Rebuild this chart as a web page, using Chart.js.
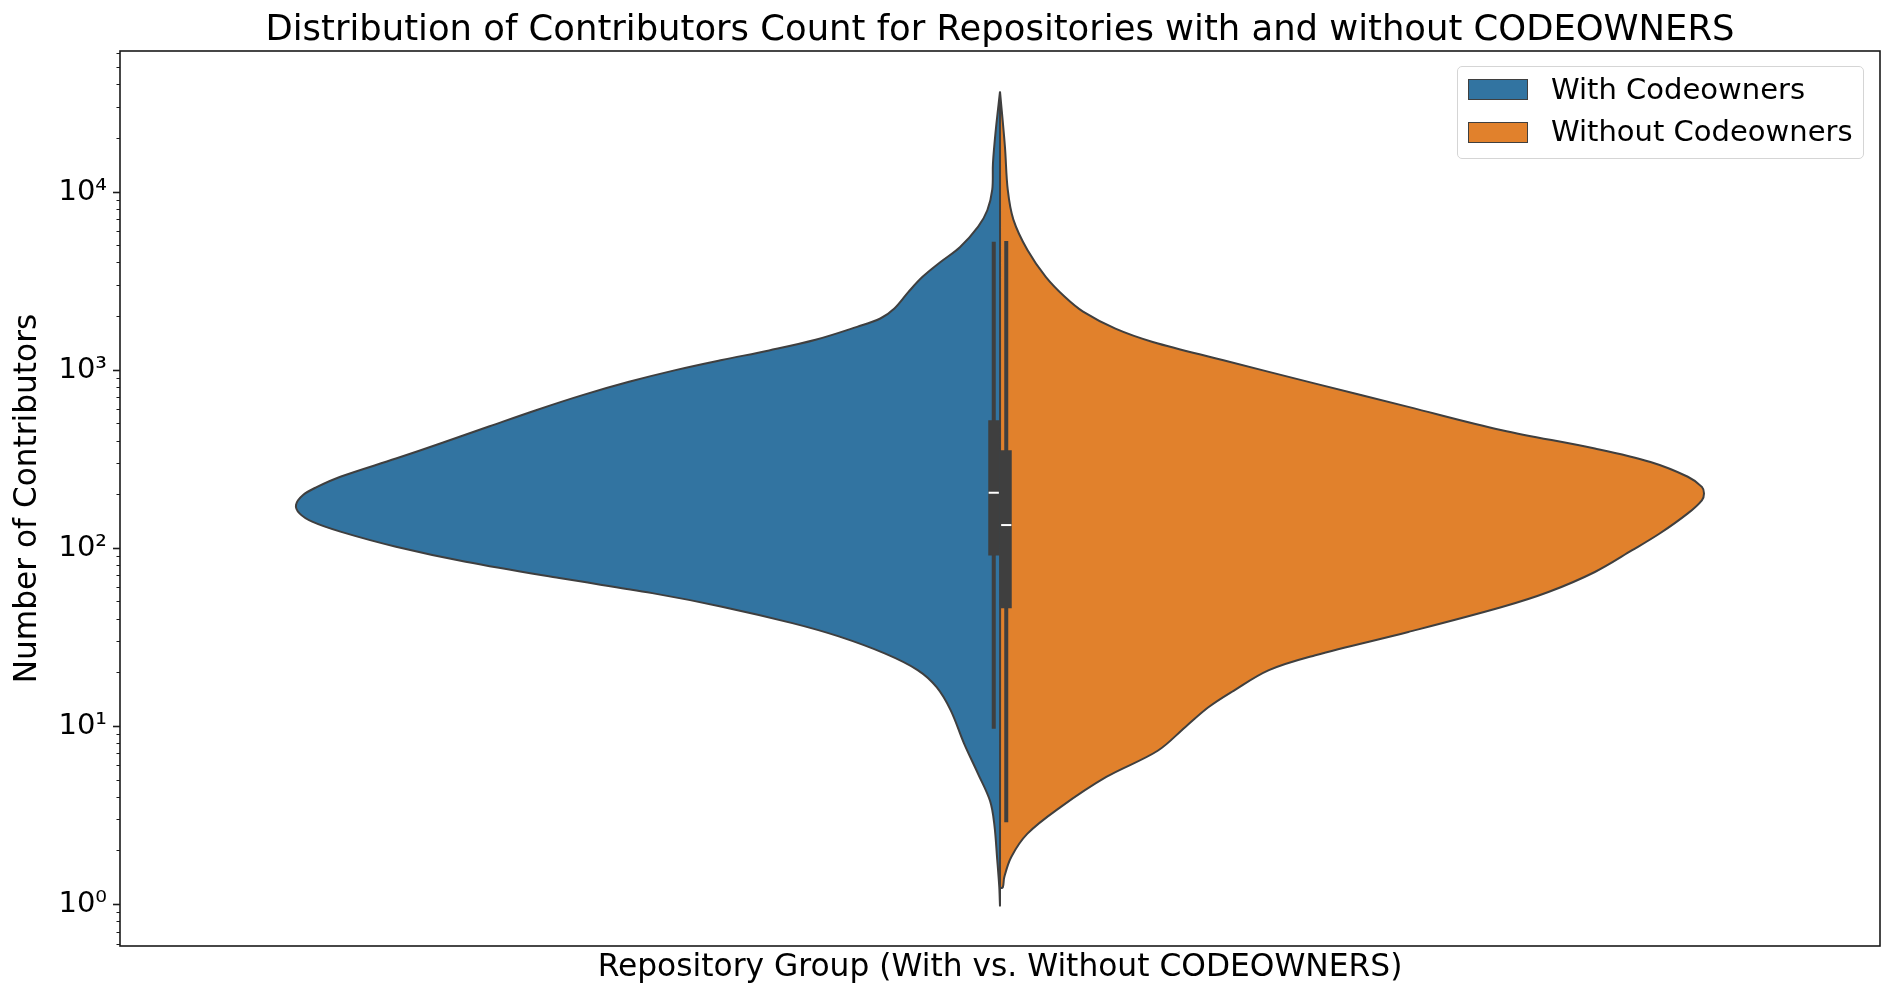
<!DOCTYPE html>
<html><head><meta charset="utf-8">
<script src="https://cdn.jsdelivr.net/npm/chart.js@4.4.1/dist/chart.umd.min.js"></script>
<style>
html,body{margin:0;padding:0;background:#fff;}
#wrap{position:relative;width:1903px;height:998px;}
canvas{display:block;}
#legend{position:absolute;left:1457px;top:66px;width:407px;height:93px;box-sizing:border-box;border:1.8px solid #d5d5d5;border-radius:5px;background:rgba(255,255,255,0.8);font-family:'DejaVu Sans',sans-serif;}
.sw{position:absolute;left:9.5px;width:60px;height:21px;box-sizing:border-box;border:1.8px solid #3f3f3f;}
.lt{position:absolute;left:93px;font-size:29px;line-height:29px;color:#000;white-space:nowrap;}
</style></head>
<body><div id="wrap"><canvas id="c" width="1903" height="998"></canvas><div id="legend"></div></div>
<script>
// ---------------- data ----------------
const groups = ['With Codeowners', 'Without Codeowners'];
const groupColors = ['#3274a1', '#e1812c'];

// violin outlines: contributor counts (top to bottom) and relative density (peak = 1)
const withLevels = [36600, 22300, 14500, 10300, 7900, 6400, 4900, 4060, 3340, 2750, 2220, 1950, 1750, 1480, 1290, 1140, 1000, 860, 724, 596, 484, 391, 319, 252, 221, 199, 175, 157, 141, 124, 102, 84, 68, 56, 47, 38, 32, 25.6, 20.7, 16.6, 12.3, 8.0, 5.4, 3.8, 2.8, 1.8, 1.25, 1.0];
const withDensity = [0, .006, .010, .011, .018, .031, .057, .084, .110, .130, .150, .170, .203, .262, .328, .395, .461, .527, .593, .659, .725, .792, .858, .937, .970, .990, 1.000, .995, .977, .937, .858, .759, .626, .494, .395, .295, .229, .163, .117, .090, .070, .051, .031, .014, .008, .004, .001, 0];

const withoutLevels = [36600, 18000, 10300, 7000, 4720, 3340, 2580, 2130, 1710, 1440, 1140, 840, 622, 460, 363, 305, 252, 221, 203, 186, 157, 121, 97.5, 73.6, 56.8, 46.8, 33.9, 25.1, 20.7, 15.6, 12.8, 9.9, 7.3, 5.2, 3.5, 2.5, 1.85, 1.42, 1.25];
const withoutDensity = [0, .007, .011, .019, .039, .065, .092, .118, .164, .217, .316, .448, .580, .713, .845, .924, .977, .997, 1.000, .997, .977, .937, .898, .845, .779, .713, .580, .448, .382, .329, .296, .263, .224, .151, .085, .039, .016, .006, .004];

// box stats: [whisker low, Q1, median, Q3, whisker high]
const withBox = [9.7, 91, 205, 524, 5260];
const withoutBox = [2.9, 46, 135, 355, 5310];

// y axis
const yMajorValues = [1, 10, 100, 1000, 10000];
const yMajorLabels = ['10\u2070', '10\u00b9', '10\u00b2', '10\u00b3', '10\u2074'];
const yMin = 0.585, yMax = 61900;

// ---------------- geometry / style ----------------
const HALF = 0.4;          // violin half width (category units)
const BOX_OFF = 0.00355;   // inner box offset from centre
const MED_HALF = 0.0029;   // half length of median tick
const EDGE = '#3f3f3f';

function violinShape(levels, dens, side) {
  const pts = levels.map((v, i) => ({x: side * HALF * dens[i], y: v}));
  const last = pts[pts.length - 1];
  if (last.x !== 0) pts.push({x: 0, y: last.y});
  pts.push({x: 0, y: levels[0]});
  return pts;
}
function seg(x0, y0, x1, y1) { return [{x: x0, y: y0}, {x: x1, y: y1}]; }

const base = {showLine: true, pointRadius: 0, pointHoverRadius: 0, tension: 0, fill: false, borderCapStyle: 'butt'};
const datasets = [];
[[withLevels, withDensity, -1, 0], [withoutLevels, withoutDensity, 1, 1]].forEach(([lv, dn, side, gi]) => {
  datasets.push(Object.assign({}, base, {
    label: groups[gi], data: violinShape(lv, dn, side), fill: 'shape', tension: 0.35,
    backgroundColor: groupColors[gi], borderColor: EDGE, borderWidth: 2, borderJoinStyle: 'round', order: 5
  }));
});
[[withBox, -1], [withoutBox, 1]].forEach(([b, side]) => {
  const x = side * BOX_OFF;
  datasets.push(Object.assign({}, base, {label: 'whisker', data: seg(x, b[0], x, b[4]), borderColor: EDGE, borderWidth: 4, order: 3}));
  datasets.push(Object.assign({}, base, {label: 'box', data: seg(x, b[1], x, b[3]), borderColor: EDGE, borderWidth: 11, order: 2}));
  datasets.push(Object.assign({}, base, {label: 'median', data: seg(x - MED_HALF, b[2], x + MED_HALF, b[2]), borderColor: '#ffffff', borderWidth: 2, order: 1}));
});

// all log ticks (major + minor)
const yTicks = [];
for (let k = -1; k <= 4; k++) {
  for (let m = 1; m <= 9; m++) {
    const v = m * Math.pow(10, k);
    if (v >= yMin && v <= yMax) yTicks.push(v);
  }
}
function majorIndex(v) { return yMajorValues.findIndex(t => Math.abs(v - t) < 1e-9 * t); }

const framePlugin = {
  id: 'frame',
  afterDatasetsDraw(chart) {
    const {ctx, chartArea: a} = chart;
    ctx.save();
    ctx.strokeStyle = '#1a1a1a';
    ctx.lineWidth = 1.6;
    ctx.strokeRect(a.left, a.top, a.right - a.left, a.bottom - a.top);
    ctx.restore();
  }
};

Chart.defaults.font.family = "'DejaVu Sans', sans-serif";
Chart.defaults.color = '#000';

const chart = new Chart(document.getElementById('c'), {
  type: 'scatter',
  data: {datasets},
  options: {
    responsive: false,
    animation: false,
    events: [],
    devicePixelRatio: 1,
    layout: {padding: {top: 0, right: 23, bottom: 0, left: 0}},
    plugins: {
      legend: {display: false},
      tooltip: {enabled: false},
      title: {
        display: true,
        fullSize: false,
        text: 'Distribution of Contributors Count for Repositories with and without CODEOWNERS',
        color: '#000',
        font: {size: 35.4, weight: 'normal', lineHeight: 1.0},
        padding: {top: 13.3, bottom: 2.3}
      }
    },
    scales: {
      x: {
        type: 'linear', min: -0.5, max: 0.5,
        ticks: {display: false},
        grid: {display: false, drawTicks: false},
        border: {display: false},
        title: {display: true, text: 'Repository Group (With vs. Without CODEOWNERS)', color: '#000',
                font: {size: 31.3}, padding: {top: 0, bottom: 11.7}},
        afterFit(s) { s.height = 52; }
      },
      y: {
        type: 'logarithmic', min: yMin, max: yMax, bounds: 'data',
        afterBuildTicks(s) { s.ticks = yTicks.map(v => ({value: v, major: majorIndex(v) >= 0})); },
        ticks: {
          autoSkip: false, padding: 6, color: '#000', font: {size: 29},
          callback(v) { const i = majorIndex(v); return i >= 0 ? yMajorLabels[i] : ''; }
        },
        grid: {
          display: true, drawOnChartArea: false, drawTicks: true, tickLength: 7, tickColor: '#1a1a1a',
          tickWidth: c => (c.tick && majorIndex(c.tick.value) >= 0) ? 1.6 : 1.2,
          tickBorderDash: c => (c.tick && majorIndex(c.tick.value) >= 0) ? [] : [0, 3.5, 3.5, 20]
        },
        border: {display: false},
        title: {display: true, text: 'Number of Contributors', color: '#000', font: {size: 31.2}, padding: {top: 9, bottom: 0}},
        afterFit(s) { s.width = 120; }
      }
    }
  },
  plugins: [framePlugin]
});

// legend (HTML, top-right inside plot)
const leg = document.getElementById('legend');
groups.forEach((g, i) => {
  const sw = document.createElement('div');
  sw.className = 'sw';
  sw.style.top = (12 + i * 42.7) + 'px';
  sw.style.background = groupColors[i];
  leg.appendChild(sw);
  const t = document.createElement('div');
  t.className = 'lt';
  t.style.top = (7.5 + i * 42.7) + 'px';
  t.textContent = g;
  leg.appendChild(t);
});
</script>
</body></html>
